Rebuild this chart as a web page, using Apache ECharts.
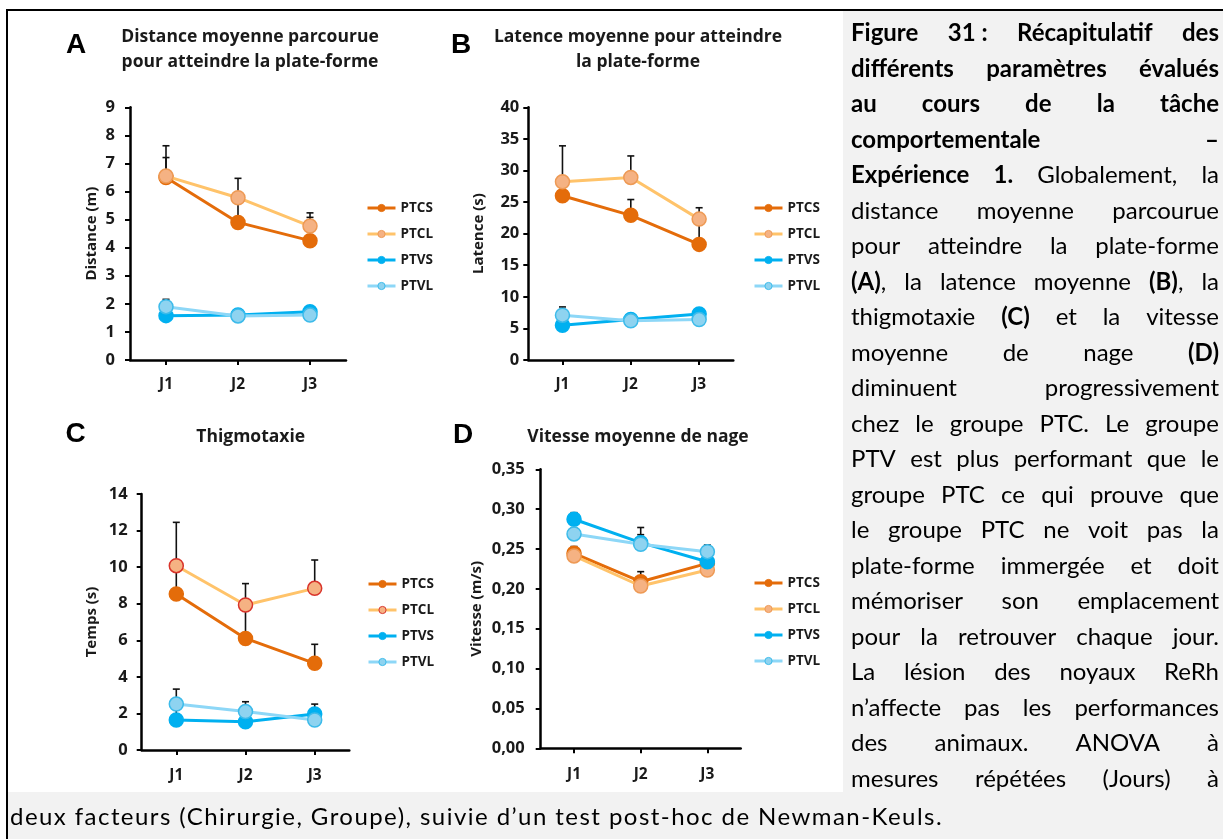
<!DOCTYPE html>
<html><head><meta charset="utf-8">
<script src="https://cdn.jsdelivr.net/npm/echarts@6/dist/echarts.min.js"></script>
<style>
html,body{margin:0;padding:0;width:1223px;height:839px;overflow:hidden;background:#fff;}
#frameTop{position:absolute;left:6px;top:9px;width:1217px;height:2px;background:#000;}
#frameLeft{position:absolute;left:6px;top:9px;width:2px;height:830px;background:#000;}
#grayR{position:absolute;left:843px;top:11px;width:380px;height:828px;background:#f2f2f2;}
#grayB{position:absolute;left:8px;top:792px;width:1215px;height:47px;background:#f2f2f2;}
#chart{position:absolute;left:0;top:0;width:1223px;height:839px;}
#caption{position:absolute;left:851px;top:14px;width:368px;font-family:Lato,'Open Sans',sans-serif;font-size:21px;color:#000;}
.ln{height:35.5px;line-height:35.5px;display:flex;justify-content:space-between;white-space:nowrap;}
#last{position:absolute;left:10px;top:798px;height:36px;line-height:36px;font-family:Lato,'Open Sans',sans-serif;font-size:21px;color:#000;white-space:nowrap;}
#measure{position:absolute;left:0;top:-200px;visibility:hidden;white-space:nowrap;font-family:Lato,'Open Sans',sans-serif;font-size:20px;}
</style></head>
<body>
<div id="grayR"></div><div id="grayB"></div>
<div id="frameTop"></div><div id="frameLeft"></div>
<div id="chart"></div>
<div id="caption"></div>
<div id="last"></div>
<span id="measure"></span>
<script>
// ---------- data ----------
const days = ['J1', 'J2', 'J3'];
const groups = ['PTCS', 'PTCL', 'PTVS', 'PTVL'];

// A : Distance (m)  rows = PTCS, PTCL, PTVS, PTVL
const distanceMean = [[6.5, 4.9, 4.25], [6.55, 5.78, 4.77], [1.58, 1.6, 1.72], [1.9, 1.57, 1.6]];
const distanceSem  = [[0.71, 0.85, 0.83], [1.08, 0.69, 0.47], [0.15, 0.1, 0.1], [0.26, 0.08, 0.1]];
// B : Latence (s)
const latencyMean = [[26.0, 22.9, 18.3], [28.2, 28.9, 22.3], [5.5, 6.4, 7.3], [7.1, 6.2, 6.4]];
const latencySem  = [[2.0, 2.5, 3.6], [5.7, 3.4, 1.8], [0.8, 0.5, 0.5], [1.3, 0.6, 0.6]];
// C : Thigmotaxie, Temps (s)
const thigmoMean = [[8.53, 6.1, 4.74], [10.08, 7.93, 8.84], [1.64, 1.55, 1.97], [2.51, 2.1, 1.64]];
const thigmoSem  = [[1.4, 1.55, 1.04], [2.37, 1.17, 1.55], [0.6, 0.25, 0.54], [0.82, 0.54, 0.3]];
// D : Vitesse (m/s)
const speedMean = [[0.2446, 0.209, 0.232], [0.2413, 0.2036, 0.2237], [0.2873, 0.258, 0.234], [0.2689, 0.256, 0.2467]];
const speedSem  = [[0.0085, 0.0126, 0.006], [0.006, 0.006, 0.006], [0.0083, 0.01, 0.008], [0.007, 0.021, 0.0083]];

const yMax = [9, 40, 14, 0.35];
const yStep = [1, 5, 2, 0.05];
const yNames = ['Distance (m)', 'Latence (s)', 'Temps (s)', 'Vitesse (m/s)'];
const panelTitles = ['Distance moyenne parcourue\npour atteindre la plate-forme', 'Latence moyenne pour atteindre\nla plate-forme', 'Thigmotaxie', 'Vitesse moyenne de nage'];
const panelLetters = ['A', 'B', 'C', 'D'];

// ---------- layout / style ----------
const grids = [
  {left: 130, top: 107.3, width: 216, height: 252.7},
  {left: 528.3, top: 107.3, width: 205, height: 252.7},
  {left: 141.7, top: 494, width: 207.6, height: 256},
  {left: 540.7, top: 469.3, width: 200, height: 279}
];
const yLabelMargin = [15, 9, 14, 16];
const yNameGap = [31, 42, 42, 56];
const xLabelMargin = [17, 17, 18, 18];
const legendPos = [{left: 366, top: 201}, {left: 753, top: 201}, {left: 367, top: 577}, {left: 753, top: 576}];
const titlePos = [{x: 250, y: 50}, {x: 638, y: 50}, {x: 250.7, y: 437}, {x: 638, y: 437}];
const letterPos = [{x: 76, y: 45}, {x: 461, y: 45}, {x: 75.5, y: 434}, {x: 463, y: 435}];

const lineColor = ['#E46C0A', '#FFC36A', '#00B0F0', '#8DD7F7'];
const fillColor = ['#E46C0A', '#F5B283', '#00B0F0', '#8ED3F0'];
const borderColor = ['#E46C0A', '#EE9A55', '#00B0F0', '#3DBBEA'];
const borderColorC = ['#E46C0A', '#D9342B', '#00B0F0', '#3DBBEA'];

const means = [distanceMean, latencyMean, thigmoMean, speedMean];
const sems = [distanceSem, latencySem, thigmoSem, speedSem];

const FONT = 'Open Sans';
const TXT = '#1a1a1a';

const option = {
  animation: false,
  grid: grids.map(g => Object.assign({containLabel: false}, g)),
  xAxis: grids.map((g, i) => ({
    type: 'category', gridIndex: i, data: days, boundaryGap: true,
    axisLine: {show: true, lineStyle: {color: '#000', width: 2.5}},
    axisTick: {show: true, alignWithLabel: true, length: 5, lineStyle: {color: '#000', width: 2}},
    axisLabel: {margin: xLabelMargin[i], fontFamily: FONT, fontWeight: 'bold', fontSize: 15.5, color: TXT},
    splitLine: {show: false}
  })),
  yAxis: grids.map((g, i) => ({
    type: 'value', gridIndex: i, min: 0, max: yMax[i], interval: yStep[i],
    name: yNames[i], nameLocation: 'middle', nameGap: yNameGap[i], nameRotate: 90,
    nameTextStyle: {fontFamily: FONT, fontWeight: 'bold', fontSize: 15, color: TXT},
    axisLine: {show: true, lineStyle: {color: '#000', width: 2.5}},
    axisTick: {show: true, length: 5, lineStyle: {color: '#000', width: 2}},
    axisLabel: {margin: yLabelMargin[i], fontFamily: FONT, fontWeight: 'bold', fontSize: 16.5, color: TXT,
      formatter: i === 3 ? (v => v.toFixed(2).replace('.', ',')) : (v => String(v))},
    splitLine: {show: false}
  })),
  legend: legendPos.map((lp, i) => ({
    orient: 'vertical', left: lp.left, top: lp.top, itemWidth: 28, itemHeight: 9, itemGap: 12,
    selectedMode: false, padding: 0,
    textStyle: {fontFamily: FONT, fontWeight: 'bold', fontSize: 13.5, color: TXT},
    data: groups.map((n, s) => ({
      name: n,
      itemStyle: {color: fillColor[s], borderColor: (i === 2 ? borderColorC : borderColor)[s], borderWidth: 1},
      lineStyle: {color: lineColor[s], width: 3}
    }))
  })),
  graphic: [].concat(
    panelTitles.map((t, i) => ({
      type: 'text', x: titlePos[i].x, y: titlePos[i].y,
      style: {text: t, fill: TXT, font: 'bold 17.5px "Open Sans"', align: 'center', verticalAlign: 'middle', lineHeight: 25}
    })),
    panelLetters.map((t, i) => ({
      type: 'text', x: letterPos[i].x, y: letterPos[i].y,
      style: {text: t, fill: '#000', font: 'bold 28px "Liberation Sans"', align: 'center', verticalAlign: 'middle'}
    }))
  ),
  series: []
};

means.forEach((panel, p) => {
  panel.forEach((vals, s) => {
    option.series.push({
      type: 'custom', xAxisIndex: p, yAxisIndex: p, silent: true, z: 2,
      data: vals.map((m, k) => [k, m, m + sems[p][s][k]]),
      renderItem: function (params, api) {
        const lo = api.coord([api.value(0), api.value(1)]);
        const hi = api.coord([api.value(0), api.value(2)]);
        return {type: 'group', children: [
          {type: 'line', shape: {x1: lo[0], y1: lo[1], x2: hi[0], y2: hi[1]}, style: {stroke: '#111', lineWidth: 1.6}},
          {type: 'line', shape: {x1: hi[0] - 3.5, y1: hi[1], x2: hi[0] + 3.5, y2: hi[1]}, style: {stroke: '#111', lineWidth: 1.6}}
        ]};
      }
    });
  });
  panel.forEach((vals, s) => {
    option.series.push({
      name: groups[s], type: 'line', xAxisIndex: p, yAxisIndex: p, data: vals,
      symbol: 'circle', symbolSize: 14, z: 3 + s,
      lineStyle: {color: lineColor[s], width: 3},
      itemStyle: {color: fillColor[s], borderColor: (p === 2 ? borderColorC : borderColor)[s], borderWidth: 1.5}
    });
  });
});

const chart = echarts.init(document.getElementById('chart'), null, {renderer: 'canvas'});
chart.setOption(option);

// ---------- caption ----------
const captionLines = [
  '**Figure 31\u00a0: Récapitulatif des',
  'différents paramètres évalués',
  'au cours de la tâche',
  'comportementale –',
  'Expérience 1.** Globalement, la',
  'distance moyenne parcourue',
  'pour atteindre la plate-forme',
  '**(A)**, la latence moyenne **(B)**, la',
  'thigmotaxie **(C)** et la vitesse',
  'moyenne de nage **(D)**',
  'diminuent progressivement',
  'chez le groupe PTC. Le groupe',
  'PTV est plus performant que le',
  'groupe PTC ce qui prouve que',
  'le groupe PTC ne voit pas la',
  'plate-forme immergée et doit',
  'mémoriser son emplacement',
  'pour la retrouver chaque jour.',
  'La lésion des noyaux ReRh',
  'n’affecte pas les performances',
  'des animaux. ANOVA à',
  'mesures répétées (Jours) à'
];
const captionLast = 'deux facteurs (Chirurgie, Groupe), suivie d’un test post-hoc de Newman-Keuls.';
const state = {b: false};
function wordsList(line) {
  return line.split(' ').map(w => {
    let out = state.b ? '<b>' : '';
    w.split('**').forEach((part, i) => {
      if (i > 0) { state.b = !state.b; out += state.b ? '<b>' : '</b>'; }
      out += part;
    });
    if (state.b) out += '</b>';
    return out;
  });
}
const lineWords = captionLines.map(wordsList);
// fit font size so the tightest line fills the column with normal spacing
const meas = document.getElementById('measure');
let maxW = 0;
lineWords.forEach(ws => { meas.innerHTML = ws.join(' '); maxW = Math.max(maxW, meas.getBoundingClientRect().width); });
const fs = Math.min(24, 20 * 366 / maxW);
const cap = document.getElementById('caption');
cap.style.fontSize = fs + 'px';
cap.innerHTML = lineWords.map(ws => '<div class="ln">' + ws.map(w => '<span>' + w + '</span>').join('') + '</div>').join('');
const last = document.getElementById('last');
last.style.fontSize = fs + 'px';
last.textContent = captionLast;
// stretch the closing line to the reference span (x 10 → 943)
const lw = last.getBoundingClientRect().width;
last.style.letterSpacing = ((933 - lw) / captionLast.length) + 'px';
</script>
</body></html>
